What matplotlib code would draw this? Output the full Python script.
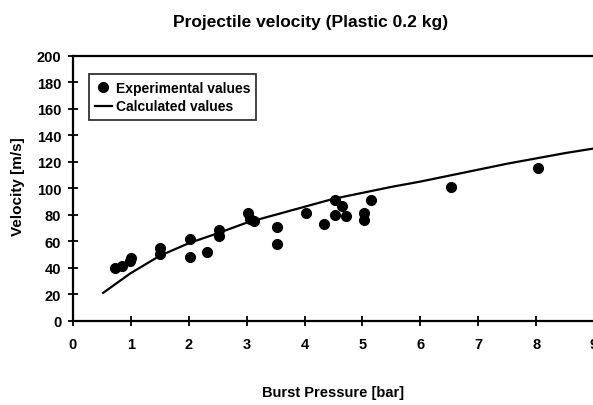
import numpy as np
import matplotlib
matplotlib.use('Agg')
import matplotlib.pyplot as plt

# Datos
presion_exp = [0.73, 0.84, 0.99, 1.0, 1.5, 1.5, 2.02, 2.02, 2.31, 2.53, 2.53,
               3.03, 3.06, 3.12, 3.52, 3.52, 4.03, 4.33, 4.52, 4.64, 4.52, 4.72,
               5.02, 5.02, 5.14, 6.53, 8.03]
velocidad_exp = [40, 41, 45, 47.5, 55, 50, 62, 48, 52, 68.5, 64,
                 81, 77, 75.5, 71, 58, 81, 73, 91, 86.5, 80, 79,
                 81, 76, 91, 101, 115]

presion_calc = [0.52, 1.0, 1.5, 2.0, 2.5, 3.0, 3.5, 4.0, 4.5, 5.0, 5.5, 6.0,
                6.5, 7.0, 7.5, 8.0, 8.5, 9.0]
velocidad_calc = [21, 36, 49, 58.5, 66, 74, 80, 86, 92, 96.5, 101, 105,
                  109.5, 114, 118.5, 122.5, 126.5, 130]

xticks = list(range(0, 10))
yticks = list(range(0, 201, 20))

plt.rcParams['font.family'] = ['Liberation Sans', 'DejaVu Sans']
plt.rcParams['font.weight'] = 'bold'

fig = plt.figure(figsize=(5.93, 4.06), dpi=100)
ax = fig.add_axes([0.1231, 0.2076, 0.8786, 0.6527])

ax.plot(presion_exp, velocidad_exp, 'o', color='black', markersize=7,
        label='Experimental values', clip_on=False)
ax.plot(presion_calc, velocidad_calc, '-', color='black', linewidth=1.6,
        label='Calculated values')

ax.set_xlim(0, 9)
ax.set_ylim(0, 200)
ax.set_xticks(xticks)
ax.set_yticks(yticks)
ax.tick_params(direction='inout', length=7, width=1.3, labelsize=10.5)
ax.tick_params(axis='x', pad=8)
ax.tick_params(axis='y', pad=5)
for lbl in ax.get_xticklabels() + ax.get_yticklabels():
    lbl.set_fontweight('bold')

ax.spines['right'].set_visible(False)
for s in ['left', 'bottom', 'top']:
    ax.spines[s].set_linewidth(1.6)

leg = ax.legend(loc='upper left', bbox_to_anchor=(0.03, 0.93), fontsize=10,
                frameon=True, fancybox=False, edgecolor='black',
                handlelength=1.2, handletextpad=0.3, borderpad=0.45,
                labelspacing=0.35, borderaxespad=0)
leg.get_frame().set_linewidth(1.3)

fig.text(311 / 593, 1 - 23 / 406, 'Projectile velocity (Plastic 0.2 kg)',
         ha='center', va='center', fontsize=12.5, fontweight='bold')
fig.text(333 / 593, 1 - 393 / 406, 'Burst Pressure [bar]',
         ha='center', va='center', fontsize=10.5, fontweight='bold')
fig.text(18 / 593, 1 - 187 / 406, 'Velocity [m/s]', rotation=90,
         ha='center', va='center', fontsize=11, fontweight='bold')

fig.savefig('out.png', dpi=100)
